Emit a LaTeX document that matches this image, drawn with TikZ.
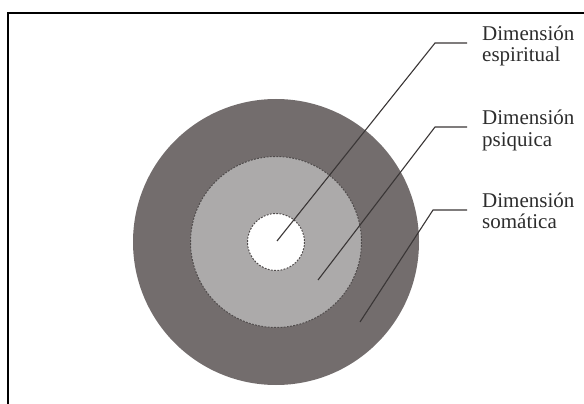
\documentclass[tikz,border=0pt]{standalone}
\usepackage{fontspec}
\setmainfont{Liberation Serif}
\definecolor{somatic}{RGB}{115,109,109}
\definecolor{psychic}{RGB}{172,170,170}
\definecolor{rim}{RGB}{80,76,76}
\definecolor{leader}{RGB}{58,54,54}
\definecolor{labeltext}{RGB}{45,45,45}
\tikzset{
  ringborder/.style={draw=rim, line width=1pt, dash pattern=on 1.8pt off 1.4pt},
  leaderline/.style={draw=leader, line width=1.1pt},
  dimlabel/.style={anchor=base west, inner sep=0pt, align=left, text=labeltext,
    font=\fontsize{21}{21}\selectfont},
  framerule/.style={draw=black, line width=2.4pt}
}
\begin{document}
\begin{tikzpicture}[x=1pt,y=-1pt]
\useasboundingbox (0,0) rectangle (584,404);
% frame
\coordinate (fbl) at (8,404);
\coordinate (ftl) at (8,13);
\coordinate (ftr) at (584,13);
\draw[framerule] (fbl) -- (ftl) -- (ftr);
% rings
\coordinate (c) at (276,242);
\fill[somatic] (c) circle[radius=143];
\path[fill=psychic, ringborder] (c) circle[radius=85.5];
\path[fill=white, ringborder] (c) circle[radius=28.5];
% labels (anchor at baseline of last line)
\node[dimlabel] (lsp) at (482,62) {Dimensión\\espiritual};
\node[dimlabel] (lps) at (482,146) {Dimensión\\psiquica};
\node[dimlabel] (lso) at (482,228) {Dimensión\\somática};
% leader lines
\coordinate (sp1) at (277,241);
\coordinate (sp2) at (435,43);
\coordinate (sp3) at (467,43);
\coordinate (ps1) at (318,280);
\coordinate (ps2) at (435,127);
\coordinate (ps3) at (467,127);
\coordinate (so1) at (360,322);
\coordinate (so2) at (433,210);
\coordinate (so3) at (467,210);
\draw[leaderline] (sp1) -- (sp2) -- (sp3);
\draw[leaderline] (ps1) -- (ps2) -- (ps3);
\draw[leaderline] (so1) -- (so2) -- (so3);
\end{tikzpicture}
\end{document}
